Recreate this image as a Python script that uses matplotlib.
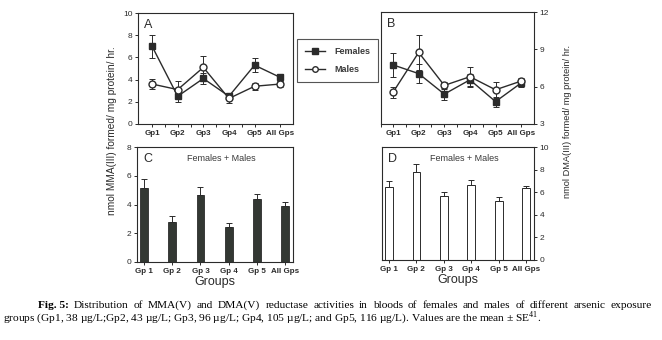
import matplotlib.pyplot as plt
from matplotlib.lines import Line2D
import numpy as np

W, H = 662, 340

groups = ['Gp1', 'Gp2', 'Gp3', 'Gp4', 'Gp5', 'All Gps']
bar_groups = ['Gp 1', 'Gp 2', 'Gp 3', 'Gp 4', 'Gp 5', 'All Gps']

# MMA(V) reductase, by sex
mma_f = [7.0, 2.5, 4.1, 2.5, 5.3, 4.2]
mma_f_err = [1.05, 0.5, 0.5, 0.25, 0.65, 0.3]
mma_m = [3.6, 3.1, 5.1, 2.3, 3.4, 3.6]
mma_m_err = [0.45, 0.8, 1.05, 0.4, 0.3, 0.25]

# DMA(V) reductase, by sex
dma_f = [7.75, 7.05, 5.4, 6.55, 4.8, 6.3]
dma_f_err = [0.95, 0.75, 0.5, 0.5, 0.4, 0.3]
dma_m = [5.55, 8.75, 6.1, 6.8, 5.75, 6.45]
dma_m_err = [0.45, 1.4, 0.3, 0.8, 0.65, 0.25]

# pooled females + males
mma_all = [5.15, 2.8, 4.65, 2.45, 4.35, 3.9]
mma_all_err = [0.6, 0.42, 0.55, 0.25, 0.4, 0.25]
dma_all = [6.5, 7.75, 5.7, 6.6, 5.25, 6.35]
dma_all_err = [0.5, 0.75, 0.3, 0.45, 0.35, 0.2]

caption_1 = ('Distribution of MMA(V) and DMA(V) reductase activities in bloods '
             'of females and males of different arsenic exposure')
caption_2 = ('groups (Gp1, 38 \u00b5g/L;Gp2, 43 \u00b5g/L; Gp3, 96 \u00b5g/L; '
             'Gp4, 105 \u00b5g/L; and Gp5, 116 \u00b5g/L). Values are the mean '
             '\u00b1 SE$^{41}$.')

ink = '#2b2b2b'
plt.rcParams['font.family'] = ['Liberation Sans', 'DejaVu Sans']
plt.rcParams['axes.edgecolor'] = ink
plt.rcParams['axes.linewidth'] = 0.8
plt.rcParams['xtick.color'] = ink
plt.rcParams['ytick.color'] = ink
plt.rcParams['mathtext.fontset'] = 'custom'
plt.rcParams['mathtext.rm'] = 'Liberation Serif'

fig = plt.figure(figsize=(W / 100, H / 100), dpi=100)


def box(l, r, t, b):
    return fig.add_axes([l / W, 1 - b / H, (r - l) / W, (b - t) / H])


def style(ax, right=False):
    ax.tick_params(axis='both', labelsize=6, length=2.5, width=0.7,
                   pad=1.5, colors=ink)
    ax.tick_params(axis='x', labelsize=5.8)
    for lab in ax.get_xticklabels():
        lab.set_fontweight('bold')
    if right:
        ax.yaxis.tick_right()


x = np.arange(len(groups))
ebar = dict(capsize=2.5, elinewidth=0.7, capthick=0.7)
fem = dict(color=ink, marker='s', ms=5, mfc=ink, mec=ink, lw=1)
mal = dict(color=ink, marker='o', ms=5, mfc='white', mec=ink, lw=1)

# A: MMA line plot
axA = box(138, 293, 13, 124)
axA.errorbar(x, mma_f, yerr=mma_f_err, zorder=3, **fem, **ebar)
axA.errorbar(x, mma_m, yerr=mma_m_err, zorder=4, **mal, **ebar)
axA.set_xlim(-0.55, 5.5)
axA.set_ylim(0, 10)
axA.set_yticks([0, 2, 4, 6, 8, 10])
axA.set_xticks(x)
axA.set_xticklabels(groups)
axA.set_xticks([0.5, 1.5, 2.5, 3.5], minor=True)
axA.tick_params(axis='x', which='major', length=0)
axA.tick_params(axis='x', which='minor', length=2.5, width=0.7)
style(axA)
axA.text(0.04, 0.95, 'A', transform=axA.transAxes, fontsize=9,
         color=ink, va='top', ha='left')

# B: DMA line plot
axB = box(381, 534, 12, 124)
axB.errorbar(x, dma_f, yerr=dma_f_err, zorder=3, **fem, **ebar)
axB.errorbar(x, dma_m, yerr=dma_m_err, zorder=4, **mal, **ebar)
axB.set_xlim(-0.47, 5.5)
axB.set_ylim(3, 12)
axB.set_yticks([3, 6, 9, 12])
axB.set_xticks(x)
axB.set_xticklabels(groups)
axB.set_xticks([-0.47, 0.5, 1.5, 2.5, 3.5], minor=True)
axB.tick_params(axis='x', which='major', length=0)
axB.tick_params(axis='x', which='minor', length=2.5, width=0.7)
style(axB, right=True)
axB.text(0.04, 0.95, 'B', transform=axB.transAxes, fontsize=9,
         color=ink, va='top', ha='left')

# legend shared between A and B
handles = [Line2D([], [], **fem), Line2D([], [], **mal)]
leg = fig.legend(handles=handles, labels=['Females', 'Males'],
                 loc='upper left', bbox_to_anchor=(297 / W, 1 - 39 / H),
                 fontsize=6.5, frameon=True, fancybox=False,
                 edgecolor=ink, handlelength=2.2, handletextpad=1.0,
                 labelspacing=1.0, borderpad=0.9, borderaxespad=0,
                 markerscale=0.8)
leg.get_frame().set_linewidth(0.8)
for t in leg.get_texts():
    t.set_fontweight('bold')
    t.set_color('#3a3a3a')

# C: MMA pooled bars
axC = box(137, 293, 147, 262)
axC.bar(x, mma_all, width=0.28, color='#333833', edgecolor=ink, lw=0.6)
axC.errorbar(x, mma_all, yerr=[np.zeros(6), mma_all_err], fmt='none',
             ecolor=ink, **ebar)
axC.set_xlim(-0.25, 5.28)
axC.set_ylim(0, 8)
axC.set_yticks([0, 2, 4, 6, 8])
axC.set_xticks(x)
axC.set_xticklabels(bar_groups)
style(axC)
axC.text(0.04, 0.95, 'C', transform=axC.transAxes, fontsize=9,
         color=ink, va='top', ha='left')
axC.text(0.54, 0.9, 'Females + Males', transform=axC.transAxes,
         fontsize=6.5, color='#3a3a3a', ha='center', va='center')
axC.set_xlabel('Groups', fontsize=9, color=ink, labelpad=1)

# D: DMA pooled bars
axD = box(382, 534, 147, 260)
axD.bar(x, dma_all, width=0.28, color='white', edgecolor=ink, lw=0.7)
axD.errorbar(x, dma_all, yerr=[np.zeros(6), dma_all_err], fmt='none',
             ecolor=ink, **ebar)
axD.set_xlim(-0.25, 5.28)
axD.set_ylim(0, 10)
axD.set_yticks([0, 2, 4, 6, 8, 10])
axD.set_xticks(x)
axD.set_xticklabels(bar_groups)
style(axD, right=True)
axD.text(0.04, 0.95, 'D', transform=axD.transAxes, fontsize=9,
         color=ink, va='top', ha='left')
axD.text(0.54, 0.9, 'Females + Males', transform=axD.transAxes,
         fontsize=6.5, color='#3a3a3a', ha='center', va='center')
axD.set_xlabel('Groups', fontsize=9, color=ink, labelpad=1)

# shared y labels
fig.text(112 / W, 1 - 131 / H, 'nmol MMA(III) formed/ mg protein/ hr.',
         rotation=90, ha='center', va='center', fontsize=7.3, color=ink)
fig.text(568 / W, 1 - 121 / H, 'nmol DMA(III) formed/ mg protein/ hr.',
         rotation=90, ha='center', va='center', fontsize=6.7, color=ink)

# caption, first line justified between x0 and x1
serif = ['Liberation Serif', 'DejaVu Serif']
cap_fs = 8.2
renderer = fig.canvas.get_renderer()
words = [('Fig. 5:', 'bold')] + [(w, 'normal') for w in caption_1.split()]
x0, x1 = 38, 652
items = []
for w, wt in words:
    t = fig.text(0, 1 - 305 / H, w, family=serif, fontsize=cap_fs,
                 fontweight=wt, va='center', ha='left')
    items.append((t, t.get_window_extent(renderer).width))
gap = (x1 - x0 - sum(wd for _, wd in items)) / (len(items) - 1)
pos = x0
for t, wd in items:
    t.set_x(pos / W)
    pos += wd + gap
fig.text(3 / W, 1 - 318 / H, caption_2, family=serif, fontsize=cap_fs,
         va='center', ha='left')

fig.savefig('out.png', dpi=100)
